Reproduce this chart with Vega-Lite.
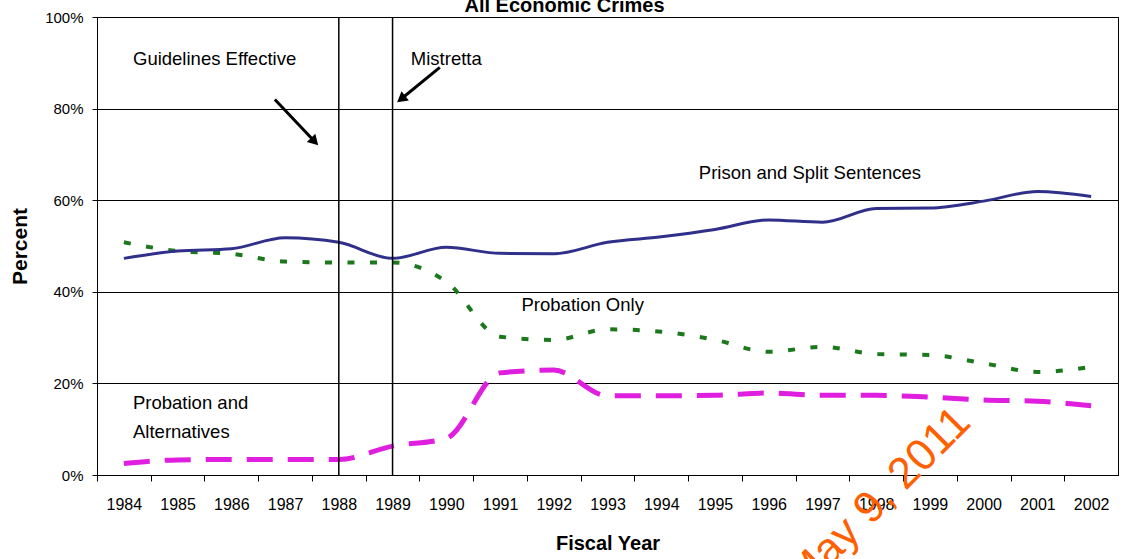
{
  "$schema": "https://vega.github.io/schema/vega-lite/v6.json",
  "width": 1021,
  "height": 458,
  "autosize": {"type": "none"},
  "padding": {"left": 97, "top": 17, "right": 11, "bottom": 84},
  "background": "white",
  "title": {
    "text": "All Economic Crimes",
    "font": "Liberation Sans",
    "fontSize": 20,
    "fontWeight": "bold",
    "color": "black",
    "anchor": "middle",
    "dx": -43,
    "dy": 8,
    "offset": 2
  },
  "config": {
    "view": {"stroke": "black", "strokeWidth": 1},
    "axis": {
      "domainColor": "black",
      "tickColor": "black",
      "labelColor": "black",
      "titleColor": "black",
      "gridColor": "black",
      "gridOpacity": 1,
      "labelFont": "Liberation Sans",
      "titleFont": "Liberation Sans"
    },
    "text": {"font": "Liberation Sans"}
  },
  "datasets": {
    "series": [
      {"year": 1984, "value": 47.3, "series": "Prison and Split Sentences"},
      {"year": 1985, "value": 48.9, "series": "Prison and Split Sentences"},
      {"year": 1986, "value": 49.4, "series": "Prison and Split Sentences"},
      {"year": 1987, "value": 51.8, "series": "Prison and Split Sentences"},
      {"year": 1988, "value": 50.8, "series": "Prison and Split Sentences"},
      {"year": 1989, "value": 47.3, "series": "Prison and Split Sentences"},
      {"year": 1990, "value": 49.7, "series": "Prison and Split Sentences"},
      {"year": 1991, "value": 48.4, "series": "Prison and Split Sentences"},
      {"year": 1992, "value": 48.3, "series": "Prison and Split Sentences"},
      {"year": 1993, "value": 50.8, "series": "Prison and Split Sentences"},
      {"year": 1994, "value": 52.0, "series": "Prison and Split Sentences"},
      {"year": 1995, "value": 53.6, "series": "Prison and Split Sentences"},
      {"year": 1996, "value": 55.7, "series": "Prison and Split Sentences"},
      {"year": 1997, "value": 55.2, "series": "Prison and Split Sentences"},
      {"year": 1998, "value": 58.2, "series": "Prison and Split Sentences"},
      {"year": 1999, "value": 58.3, "series": "Prison and Split Sentences"},
      {"year": 2000, "value": 59.8, "series": "Prison and Split Sentences"},
      {"year": 2001, "value": 61.9, "series": "Prison and Split Sentences"},
      {"year": 2002, "value": 60.8, "series": "Prison and Split Sentences"},
      {"year": 1984, "value": 50.8, "series": "Probation Only"},
      {"year": 1985, "value": 48.9, "series": "Probation Only"},
      {"year": 1986, "value": 48.3, "series": "Probation Only"},
      {"year": 1987, "value": 46.6, "series": "Probation Only"},
      {"year": 1988, "value": 46.4, "series": "Probation Only"},
      {"year": 1989, "value": 46.4, "series": "Probation Only"},
      {"year": 1990, "value": 42.2, "series": "Probation Only"},
      {"year": 1991, "value": 30.2, "series": "Probation Only"},
      {"year": 1992, "value": 29.5, "series": "Probation Only"},
      {"year": 1993, "value": 31.8, "series": "Probation Only"},
      {"year": 1994, "value": 31.3, "series": "Probation Only"},
      {"year": 1995, "value": 29.5, "series": "Probation Only"},
      {"year": 1996, "value": 26.9, "series": "Probation Only"},
      {"year": 1997, "value": 28.0, "series": "Probation Only"},
      {"year": 1998, "value": 26.4, "series": "Probation Only"},
      {"year": 1999, "value": 26.2, "series": "Probation Only"},
      {"year": 2000, "value": 24.4, "series": "Probation Only"},
      {"year": 2001, "value": 22.5, "series": "Probation Only"},
      {"year": 2002, "value": 23.6, "series": "Probation Only"},
      {"year": 1984, "value": 2.5, "series": "Probation and Alternatives"},
      {"year": 1985, "value": 3.3, "series": "Probation and Alternatives"},
      {"year": 1986, "value": 3.4, "series": "Probation and Alternatives"},
      {"year": 1987, "value": 3.4, "series": "Probation and Alternatives"},
      {"year": 1988, "value": 3.4, "series": "Probation and Alternatives"},
      {"year": 1989, "value": 6.3, "series": "Probation and Alternatives"},
      {"year": 1990, "value": 8.0, "series": "Probation and Alternatives"},
      {"year": 1991, "value": 22.3, "series": "Probation and Alternatives"},
      {"year": 1992, "value": 22.9, "series": "Probation and Alternatives"},
      {"year": 1993, "value": 17.3, "series": "Probation and Alternatives"},
      {"year": 1994, "value": 17.3, "series": "Probation and Alternatives"},
      {"year": 1995, "value": 17.4, "series": "Probation and Alternatives"},
      {"year": 1996, "value": 17.9, "series": "Probation and Alternatives"},
      {"year": 1997, "value": 17.4, "series": "Probation and Alternatives"},
      {"year": 1998, "value": 17.4, "series": "Probation and Alternatives"},
      {"year": 1999, "value": 17.0, "series": "Probation and Alternatives"},
      {"year": 2000, "value": 16.4, "series": "Probation and Alternatives"},
      {"year": 2001, "value": 16.1, "series": "Probation and Alternatives"},
      {"year": 2002, "value": 15.1, "series": "Probation and Alternatives"}
    ],
    "events": [
      {"year": 1988, "event": "Guidelines Effective"},
      {"year": 1989, "event": "Mistretta"}
    ],
    "notes": [
      {"x": 1984.17, "y": 90.8, "note": "Guidelines Effective"},
      {"x": 1989.34, "y": 90.8, "note": "Mistretta"},
      {"x": 1994.70, "y": 65.9, "note": "Prison and Split Sentences"},
      {"x": 1991.40, "y": 37.1, "note": "Probation Only"},
      {"x": 1984.17, "y": 15.7, "note": "Probation and"},
      {"x": 1984.17, "y": 9.45, "note": "Alternatives"}
    ],
    "arrows": [
      {"arrow": "Guidelines Effective", "x1": 1986.81, "y1": 82.0, "x2": 1987.55, "y2": 72.8},
      {"arrow": "Mistretta", "x1": 1989.88, "y1": 89.0, "x2": 1989.16, "y2": 82.1}
    ],
    "stamp": [
      {"x": 1998.05, "y": -5.4, "stamp": "May 9, 2011"}
    ]
  },
  "layer": [
    {
      "data": {"name": "series"},
      "transform": [{"filter": "datum.series === 'Probation and Alternatives'"}],
      "mark": {"type": "line", "color": "#e01ee0", "strokeWidth": 5, "strokeDash": [26, 15], "interpolate": "monotone"},
      "encoding": {
        "x": {
          "field": "year", "type": "quantitative",
          "scale": {"domain": [1983.5, 2002.5], "nice": false, "zero": false},
          "axis": {
            "values": [1984, 1985, 1986, 1987, 1988, 1989, 1990, 1991, 1992, 1993, 1994, 1995, 1996, 1997, 1998, 1999, 2000, 2001, 2002],
            "format": "d",
            "grid": false,
            "tickSize": 6,
            "tickOffset": -26.87,
            "labelOffset": 26.87,
            "labelPadding": 15,
            "labelFontSize": 16,
            "labelFlush": false,
            "labelOverlap": false,
            "title": "Fiscal Year",
            "titleFontSize": 20,
            "titleFontWeight": "bold",
            "titlePadding": 21
          }
        },
        "y": {
          "field": "value", "type": "quantitative",
          "scale": {"domain": [0, 100], "nice": false},
          "axis": {
            "values": [0, 20, 40, 60, 80, 100],
            "labelExpr": "datum.value + '%'",
            "grid": true,
            "tickSize": 5,
            "labelPadding": 9,
            "labelFontSize": 15,
            "title": "Percent",
            "titleFontSize": 21,
            "titleFontWeight": "bold",
            "titlePadding": 14
          }
        }
      }
    },
    {
      "data": {"name": "series"},
      "transform": [{"filter": "datum.series === 'Probation Only'"}],
      "mark": {"type": "line", "color": "#1c781c", "strokeWidth": 4, "strokeDash": [7, 15.5], "interpolate": "monotone"},
      "encoding": {
        "x": {"field": "year", "type": "quantitative"},
        "y": {"field": "value", "type": "quantitative"}
      }
    },
    {
      "data": {"name": "series"},
      "transform": [{"filter": "datum.series === 'Prison and Split Sentences'"}],
      "mark": {"type": "line", "color": "#30308a", "strokeWidth": 3, "interpolate": "monotone"},
      "encoding": {
        "x": {"field": "year", "type": "quantitative"},
        "y": {"field": "value", "type": "quantitative"}
      }
    },
    {
      "data": {"name": "events"},
      "mark": {"type": "rule", "color": "black", "strokeWidth": 1.5},
      "encoding": {
        "x": {"field": "year", "type": "quantitative"}
      }
    },
    {
      "data": {"name": "notes"},
      "mark": {"type": "text", "align": "left", "baseline": "middle", "fontSize": 18.5, "color": "black"},
      "encoding": {
        "x": {"field": "x", "type": "quantitative"},
        "y": {"field": "y", "type": "quantitative"},
        "text": {"field": "note"}
      }
    },
    {
      "data": {"name": "arrows"},
      "mark": {"type": "rule", "color": "black", "strokeWidth": 3},
      "encoding": {
        "x": {"field": "x1", "type": "quantitative"},
        "y": {"field": "y1", "type": "quantitative"},
        "x2": {"field": "x2"},
        "y2": {"field": "y2"}
      }
    },
    {
      "data": {"name": "arrows"},
      "transform": [{"filter": "datum.arrow === 'Guidelines Effective'"}],
      "mark": {"type": "point", "shape": "triangle-up", "filled": true, "color": "black", "opacity": 1, "size": 140, "angle": 136},
      "encoding": {
        "x": {"field": "x2", "type": "quantitative"},
        "y": {"field": "y2", "type": "quantitative"}
      }
    },
    {
      "data": {"name": "arrows"},
      "transform": [{"filter": "datum.arrow === 'Mistretta'"}],
      "mark": {"type": "point", "shape": "triangle-up", "filled": true, "color": "black", "opacity": 1, "size": 140, "angle": 232},
      "encoding": {
        "x": {"field": "x2", "type": "quantitative"},
        "y": {"field": "y2", "type": "quantitative"}
      }
    },
    {
      "data": {"name": "stamp"},
      "mark": {"type": "text", "align": "center", "baseline": "middle", "fontSize": 44, "color": "#ff6000", "angle": 315},
      "encoding": {
        "x": {"field": "x", "type": "quantitative"},
        "y": {"field": "y", "type": "quantitative"},
        "text": {"field": "stamp"}
      }
    }
  ]
}
